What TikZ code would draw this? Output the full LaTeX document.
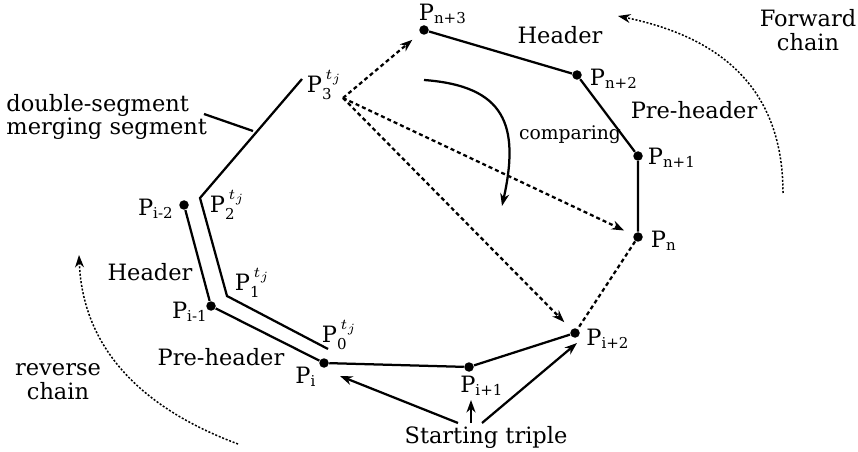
\documentclass[tikz,border=0pt]{standalone}
\usepackage{amsmath}
\usepackage{fontspec}
\setmainfont{DejaVu Serif}
\usepackage{tikz}
\usetikzlibrary{arrows.meta}

\newcommand{\pl}[1]{P$_{\text{#1}}$}
\newcommand{\ptj}[1]{P$^{\,t_j}_{\text{#1}}$}

\tikzset{
  dot/.style={circle, fill, inner sep=0pt, minimum size=3.8pt},
  lbl/.style={font=\fontsize{9}{9.5}\selectfont, inner sep=0pt, align=center},
  seg/.style={line width=0.9pt},
  probe/.style={line width=0.9pt, dash pattern=on 1.6pt off 1.2pt},
  chain/.style={line width=0.6pt, dash pattern=on 0.8pt off 0.7pt},
  tip/.style={-{Stealth[length=5pt,width=3.6pt]}}
}

\begin{document}
\begin{tikzpicture}[x=0.4pt, y=-0.4pt]
    \useasboundingbox (0,0) rectangle (858,452);
    \node[dot] (pn3) at (424,30) {};
    \node[dot] (pn2) at (577,75) {};
    \node[dot] (pn1) at (638,156) {};
    \node[dot] (pn) at (638,237) {};
    \node[dot] (pi2) at (575,333) {};
    \node[dot] (pi1) at (469,367) {};
    \node[dot] (pi) at (324,363) {};
    \node[dot] (pim1) at (211,306) {};
    \node[dot] (pim2) at (184,205) {};
    \node[lbl] (lpn3) at (443,14) {\pl{n+3}};
    \node[lbl] (lpn2) at (614,79) {\pl{n+2}};
    \node[lbl] (lpn1) at (672,158) {\pl{n+1}};
    \node[lbl] (lpn) at (664,241) {\pl{n}};
    \node[lbl] (lpi2) at (608,339) {\pl{i+2}};
    \node[lbl] (lpi1) at (482,386) {\pl{i+1}};
    \node[lbl] (lpi) at (306,377) {\pl{i}};
    \node[lbl] (lpim1) at (190,312) {\pl{i-1}};
    \node[lbl] (lpim2) at (156,209) {\pl{i-2}};
    \draw[seg] (pn3) -- (pn2) -- (pn1) -- (pn);
    \draw[probe] (pn) -- (pi2);
    \draw[seg] (pi2) -- (pi1) -- (pi) -- (pim1) -- (pim2);
    \coordinate (t3) at (302,79);
    \coordinate (t2) at (200,198);
    \coordinate (t1) at (227,296);
    \coordinate (t0) at (328,349);
    \draw[seg] (t3) -- (t2) -- (t1) -- (t0);
    \node[lbl] (lt3) at (325,85) {\ptj{3}};
    \node[lbl] (lt2) at (228,205) {\ptj{2}};
    \node[lbl] (lt1) at (253,283) {\ptj{1}};
    \node[lbl] (lt0) at (340,335) {\ptj{0}};
    \coordinate (cmp) at (343,98);
    \draw[probe, tip, shorten >=4pt] (cmp) -- (pn3);
    \draw[probe, tip, shorten >=4pt] (cmp) -- (pn);
    \draw[probe, tip, shorten >=4pt] (cmp) -- (pi2);
    \coordinate (c0) at (424,80);
    \coordinate (c1) at (502,206);
    \draw[seg, tip] (c0) .. controls (505,86) and (520,125) .. (c1);
    \node[lbl, font=\fontsize{7.5}{9}\selectfont] (lcmp) at (570,135) {comparing};
    \node[lbl] (hd1) at (560,35) {Header};
    \node[lbl] (ph1) at (694,110) {Pre-header};
    \node[lbl] (fwd) at (808,30) {Forward\\chain};
    \coordinate (f0) at (783,193);
    \coordinate (f1) at (618,16);
    \draw[chain, tip] (f0) .. controls (783,80) and (710,35) .. (f1);
    \node[lbl, align=left, anchor=west] (dsm) at (6,117) {double-segment\\merging segment};
    \coordinate (ld) at (204,114);
    \coordinate (mg) at (253,131);
    \draw[seg] (ld) -- (mg);
    \node[lbl] (hd2) at (150,272) {Header};
    \node[lbl] (ph2) at (221,357) {Pre-header};
    \node[lbl] (rev) at (58,382) {reverse\\chain};
    \coordinate (r0) at (238,444);
    \coordinate (r1) at (79,255);
    \draw[chain, tip] (r0) .. controls (120,400) and (82,330) .. (r1);
    \node[lbl] (st) at (486,437) {Starting triple};
    \coordinate (s1) at (458,423);
    \coordinate (s2) at (471,423);
    \coordinate (s3) at (482,423);
    \coordinate (a1) at (340,376);
    \coordinate (a2) at (471,400);
    \coordinate (a3) at (577,343);
    \draw[seg, tip] (s1) -- (a1);
    \draw[seg, tip] (s2) -- (a2);
    \draw[seg, tip] (s3) -- (a3);
\end{tikzpicture}
\end{document}
